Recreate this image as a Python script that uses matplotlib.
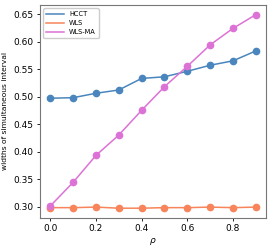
import matplotlib
matplotlib.use("Agg")
import matplotlib.pyplot as plt

rho = [0.0, 0.1, 0.2, 0.3, 0.4, 0.5, 0.6, 0.7, 0.8, 0.9]
hcct = [0.497, 0.498, 0.506, 0.512, 0.533, 0.536, 0.546, 0.557, 0.565, 0.583]
wls = [0.298, 0.298, 0.299, 0.297, 0.297, 0.298, 0.298, 0.299, 0.298, 0.299]
wls_ma = [0.301, 0.344, 0.393, 0.430, 0.475, 0.518, 0.555, 0.594, 0.624, 0.649]

series = [("HCCT", hcct, "#4a86bd"),
          ("WLS", wls, "#f7845a"),
          ("WLS-MA", wls_ma, "#dd72d6")]

fig, ax = plt.subplots(figsize=(2.74, 2.49), dpi=100)
for label, ys, color in series:
    ax.plot(rho, ys, color=color, lw=1.1, label=label)
    ax.plot(rho, ys, "o", color=color, ms=4.5)

ax.set_xticks([0.0, 0.2, 0.4, 0.6, 0.8])
ax.set_yticks([0.30, 0.35, 0.40, 0.45, 0.50, 0.55, 0.60, 0.65])
ax.tick_params(labelsize=6.5, length=2.5, width=0.6, pad=2)
ax.set_xlabel(r"$\rho$", fontsize=6.5, labelpad=2)
ax.set_ylabel("widths of simultaneous interval", fontsize=5.4, labelpad=4)
for sp in ax.spines.values():
    sp.set_color("#777777")
    sp.set_linewidth(0.8)
ax.legend(loc="upper left", fontsize=4.8, handlelength=2.6, borderpad=0.45,
          labelspacing=0.45, framealpha=1, edgecolor="#cccccc")

fig.subplots_adjust(left=0.146, right=0.971, top=0.98, bottom=0.125)
fig.savefig("out.png", dpi=100)
